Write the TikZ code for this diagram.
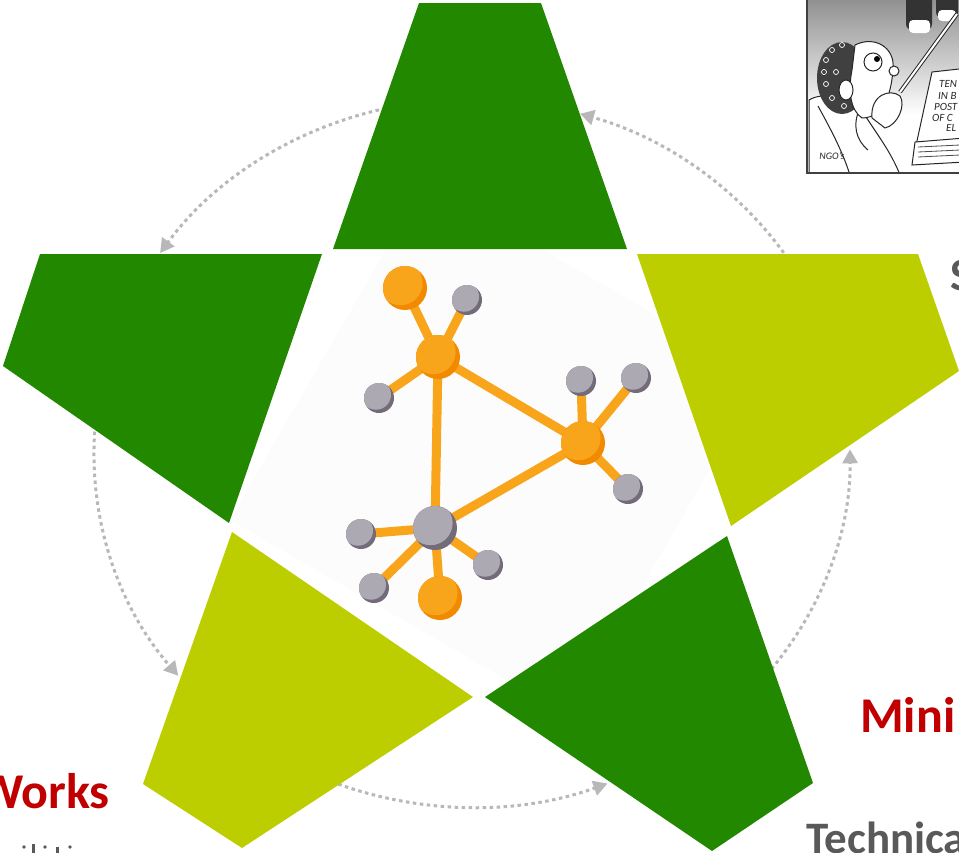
\documentclass[tikz,border=0pt]{standalone}
\usepackage{fontspec}
\setmainfont{Carlito}
\usetikzlibrary{arrows.meta,calc}

\definecolor{leafdark}{HTML}{228800}
\definecolor{leaflime}{HTML}{BDCE00}
\definecolor{cyclegrey}{HTML}{B8B8B8}
\definecolor{titlered}{HTML}{C00000}
\definecolor{labelgrey}{HTML}{595959}
\definecolor{linkorange}{HTML}{F8A51B}
\definecolor{hublight}{HTML}{F8A51B}
\definecolor{hubdark}{HTML}{F28A00}
\definecolor{satlight}{HTML}{ADA9B3}
\definecolor{satdark}{HTML}{736B7A}
\definecolor{panelback}{HTML}{FCFCFC}

% shaded ball: centre, radius (pt), dark colour, light colour
\newcommand{\netball}[4]{%
  \fill[#3] (#1) circle[radius=#2pt];
  \begin{scope}
    \clip (#1) circle[radius=#2pt];
    \fill[#4] ($(#1)+(-0.2*#2,-0.22*#2)$) circle[radius=#2pt];
  \end{scope}}

\tikzset{
  cyclearrow/.style={draw=cyclegrey, line width=3pt, dash pattern=on 3.5pt off 3.5pt,
    -{Triangle[length=14pt,width=15pt]}},
  netlink/.style={draw=linkorange, line width=9pt},
  redlabel/.style={font=\fontsize{50}{60}\selectfont\bfseries, text=titlered, inner sep=0pt},
  greylabel/.style={font=\fontsize{45}{54}\selectfont\bfseries, text=labelgrey, inner sep=0pt},
  cartoonline/.style={draw=black!85, line width=1pt},
}

\begin{document}
\begin{tikzpicture}[x=1pt,y=-1pt]
\useasboundingbox (0,0) rectangle (959,852);
\fill[white] (0,0) rectangle (959,852);

% ---------- cartoon panel ----------
\begin{scope}
  \clip (807,-5) rectangle (965,173);
  \fill[white] (807,-5) rectangle (965,173);
  \shade[top color=black!45, bottom color=white] (807,-5) rectangle (965,115);
  % shoes hanging from above
  \fill[black!80, rounded corners=6pt] (906,-5) rectangle (932,30);
  \fill[white, rounded corners=4pt] (909,20) rectangle (930,33);
  \fill[black!80, rounded corners=6pt] (936,-5) rectangle (958,18);
  \fill[white, rounded corners=4pt] (938,10) rectangle (956,21);
  % pole
  \draw[black!85, line width=4pt] (957,14) -- (900,92);
  \draw[white, line width=2pt] (957,14) -- (900,92);
  % jacket
  \filldraw[cartoonline, fill=white] (809,100) .. controls (822,92) and (845,96) .. (860,108)
    -- (878,135) .. controls (888,150) and (895,162) .. (900,175) -- (809,175) -- cycle;
  \draw[cartoonline] (818,106) .. controls (830,128) and (842,150) .. (850,175);
  \draw[cartoonline] (860,108) .. controls (852,125) and (856,140) .. (868,150);
  % head: curly hair, face, ear, eye, nose
  \fill[black!75] (842,78) ellipse[x radius=25pt, y radius=36pt];
  \foreach \cx/\cy in {826/60,832/50,842/45,836/72,826/84,832/98,844/106,824/72}
    {\draw[white, line width=0.7pt] (\cx,\cy) circle[radius=2.5pt];}
  \filldraw[cartoonline, fill=white] (855,45) .. controls (875,35) and (895,48) .. (893,68)
    .. controls (892,90) and (885,118) .. (862,118) .. controls (850,110) and (848,90) .. (852,70) -- cycle;
  \filldraw[cartoonline, fill=white] (846,90) ellipse[x radius=7pt, y radius=10pt];
  \filldraw[cartoonline, fill=white] (873,62) circle[radius=9pt];
  \fill[black] (877,59) circle[radius=3pt];
  \filldraw[cartoonline, fill=white] (894,71) circle[radius=5pt];
  % hand at the mouth
  \filldraw[cartoonline, fill=white] (872,118) .. controls (870,95) and (890,88) .. (900,96)
    .. controls (906,105) and (898,125) .. (885,128) -- cycle;
  % sign
  \filldraw[cartoonline, fill=white] (932,72) -- (968,68) -- (968,140) -- (915,150) -- cycle;
  \begin{scope}[font=\fontsize{11}{10}\selectfont\itshape, inner sep=0pt, text=black!85]
    \node[anchor=west] (signa) at (939,84) {TEN};
    \node[anchor=west] (signb) at (938,96) {IN B};
    \node[anchor=west] (signc) at (934,107) {POST};
    \node[anchor=west] (signd) at (932,118) {OF C};
    \node[anchor=west] (signe) at (946,128) {EL};
  \end{scope}
  % stack of papers
  \filldraw[cartoonline, fill=white] (915,142) -- (965,138) -- (965,162) -- (912,165) -- cycle;
  \foreach \yy in {147,152,157} {\draw[black!70, line width=0.8pt] (918,\yy) -- (960,\yy-2);}
  \node[font=\fontsize{10}{10}\selectfont\itshape, inner sep=0pt, text=black!85] (ngo) at (832,156) {NGO's};
\end{scope}
\draw[black!75, line width=1.6pt] (807,-5) -- (807,173) -- (965,173);

% ---------- dotted cycle arrows ----------
\coordinate (O) at (472,453);
\draw[cyclearrow] (O) ++(30:378pt and 354pt) arc[start angle=30, end angle=73.4, x radius=378pt, y radius=354pt];
\draw[cyclearrow] (O) ++(100:378pt and 354pt) arc[start angle=100, end angle=145.6, x radius=378pt, y radius=354pt];
\draw[cyclearrow] (O) ++(172:378pt and 354pt) arc[start angle=172, end angle=219, x radius=378pt, y radius=354pt];
\draw[cyclearrow] (O) ++(245:378pt and 354pt) arc[start angle=245, end angle=291, x radius=378pt, y radius=354pt];
\draw[cyclearrow] (O) ++(318:378pt and 354pt) arc[start angle=318, end angle=360.6, x radius=378pt, y radius=354pt];

% ---------- pale panel behind the network ----------
\fill[panelback] (230,520) -- (568,715) -- (763,377) -- (425,182) -- cycle;

% ---------- star pieces ----------
\fill[leafdark]  (419,3) -- (541,3) -- (627,249) -- (333,249) -- cycle;
\fill[leafdark]  (40,254) -- (322,254) -- (229,523) -- (3,366) -- cycle;
\fill[leaflime]  (637,254) -- (918,254) -- (959,371) -- (731,526) -- cycle;
\fill[leaflime]  (232,532) -- (473,697) -- (242,848) -- (143,784) -- cycle;
\fill[leafdark]  (727,536) -- (813,783) -- (712,851) -- (485,697) -- cycle;

% ---------- network ----------
\coordinate (hA) at (405,288);
\coordinate (sB) at (467,300);
\coordinate (hC) at (438,357);
\coordinate (sD) at (379,398);
\coordinate (hE) at (583,443);
\coordinate (sF) at (581,381);
\coordinate (sG) at (636,378);
\coordinate (sH) at (628,489);
\coordinate (hI) at (435,528);
\coordinate (sJ) at (361,534);
\coordinate (sK) at (374,588);
\coordinate (hL) at (440,598);
\coordinate (sM) at (488,565);

\foreach \a/\b in {hA/hC, sB/hC, sD/hC, hC/hE, hC/hI, hE/sF, hE/sG, hE/sH, hE/hI, hI/sJ, hI/sK, hI/hL, hI/sM}
  {\draw[netlink] (\a) -- (\b);}

\netball{hA}{22}{hubdark}{hublight}
\netball{hC}{22}{hubdark}{hublight}
\netball{hE}{22}{hubdark}{hublight}
\netball{hL}{22}{hubdark}{hublight}
\netball{hI}{22}{satdark}{satlight}
\foreach \s in {sB,sD,sF,sG,sH,sJ,sK,sM}
  {\netball{\s}{15}{satdark}{satlight}}

% ---------- labels at the edges ----------
\node[redlabel, anchor=base east] (works) at (110,808) {Works};
\node[redlabel, anchor=base west] (mini) at (860,732) {Mini};
\node[greylabel, font=\fontsize{46}{55}\selectfont\bfseries, anchor=base west] (sword) at (950,290) {S};
\node[greylabel, anchor=base west] (tech) at (806,853) {Technica};

% tops of the line of text below
\fill[labelgrey] (24,847) circle[radius=1.8pt];
\fill[labelgrey] (31.5,844) rectangle (34.5,853);
\fill[labelgrey] (45,847) circle[radius=1.8pt];
\fill[labelgrey] (55.5,846.5) rectangle (58.5,853);
\fill[labelgrey] (70,847) circle[radius=1.8pt];
\end{tikzpicture}
\end{document}
